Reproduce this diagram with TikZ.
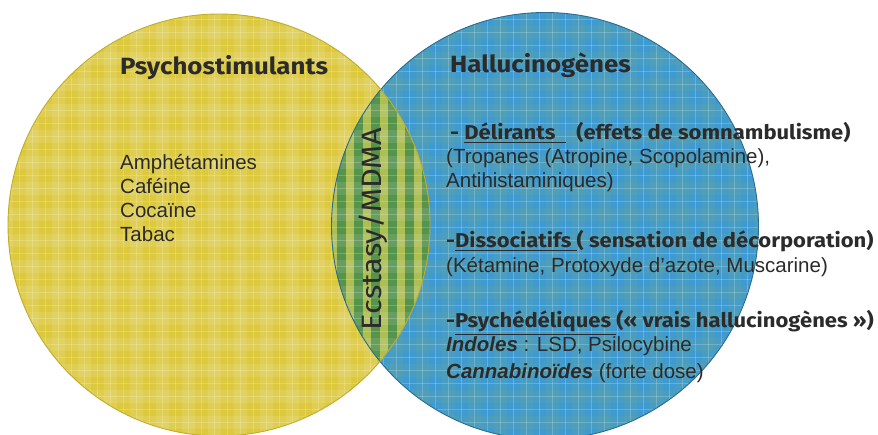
\documentclass[tikz,border=0pt]{standalone}
\usepackage{fontspec}
\setmainfont{Liberation Sans}
\newfontfamily\comic{Fira Sans}[FakeStretch=1.1]
\definecolor{ylw}{HTML}{DCC93E}
\definecolor{ylwedge}{HTML}{C2AC28}
\definecolor{blu}{HTML}{3F9AD2}
\definecolor{bluedge}{HTML}{2A6C90}
\definecolor{bluband}{HTML}{6FAA8C}
\definecolor{lensl}{HTML}{ADBF54}
\definecolor{lensd}{HTML}{56944C}
\definecolor{txt}{HTML}{2B2B2B}
\tikzset{
  body/.style={anchor=base west, inner sep=0pt, text=txt, font=\fontsize{20.5}{24}\selectfont},
  head/.style={anchor=base west, inner sep=0pt, text=txt, font=\comic\bfseries\fontsize{23.5}{28}\selectfont},
  sub/.style={anchor=base west, inner sep=0pt, text=txt, font=\comic\bfseries\fontsize{20}{24}\selectfont},
  grid line/.style={white, opacity=0.2, line width=0.5pt},
}
\begin{document}
\begin{tikzpicture}[x=1pt,y=-1pt]
\useasboundingbox (0,0) rectangle (878,435);
\fill[white] (0,0) rectangle (878,435);
\coordinate (cL) at (219,225);
\coordinate (cR) at (545,226);
% yellow circle
\fill[ylw] (cL) circle[radius=211];
\begin{scope}
  \clip (cL) circle[radius=211];
  \foreach \k in {0,...,34} {
    \fill[white,opacity=0.10] (0,\k*26) rectangle (878,\k*26+13);
    \fill[white,opacity=0.10] (\k*26,0) rectangle (\k*26+13,435);
  }
  \foreach \k in {0,...,68} {
    \draw[grid line] (\k*13+6,0) -- (\k*13+6,435);
  }
  \foreach \k in {0,...,34} {
    \draw[grid line] (0,\k*13+6) -- (878,\k*13+6);
  }
\end{scope}
% blue circle
\fill[blu] (cR) circle[radius=213.5];
\begin{scope}
  \clip (cR) circle[radius=213.5];
  \foreach \k in {0,...,34} {
    \fill[bluband,opacity=0.2] (0,\k*26) rectangle (878,\k*26+13);
    \fill[bluband,opacity=0.2] (\k*26,0) rectangle (\k*26+13,435);
  }
  \foreach \k in {0,...,68} {
    \draw[grid line] (\k*13+6,0) -- (\k*13+6,435);
  }
  \foreach \k in {0,...,34} {
    \draw[grid line] (0,\k*13+6) -- (878,\k*13+6);
  }
\end{scope}
% lens
\begin{scope}
  \clip (cL) circle[radius=211];
  \clip (cR) circle[radius=213.5];
  \fill[lensl] (320,0) rectangle (440,435);
  \foreach \k in {0,...,6} {
    \fill[lensd] (337+\k*17,0) rectangle (346+\k*17,435);
  }
  \foreach \k in {0,...,34} {
    \fill[white,opacity=0.10] (300,\k*26) rectangle (460,\k*26+13);
  }
  \foreach \k in {0,...,34} {
    \draw[grid line] (300,\k*13+6) -- (460,\k*13+6);
  }
\end{scope}
\draw[bluedge, line width=0.9pt] (cR) circle[radius=213.5];
\draw[ylwedge, line width=0.9pt] (cL) circle[radius=211];
% texts
\node[head] (hpsy) at (120,75) {Psychostimulants};
\node[head] (hhal) at (450,73) {Hallucinogènes};
\node[body] (l1) at (120,170) {Amphétamines};
\node[body] (l2) at (120,194) {Caféine};
\node[body] (l3) at (120,218) {Cocaïne};
\node[body] (l4) at (120,242) {Tabac};
\node[rotate=90, inner sep=0pt, text=txt, font=\comic\fontsize{28}{32}\selectfont] (ecs) at (373,229) {Ecstasy/MDMA};
\node[sub] (d1) at (450,140) {- \underline{Délirants\ \ }\ \ (effets de somnambulisme)};
\node[body] (d2) at (446,164) {(Tropanes (Atropine, Scopolamine),};
\node[body] (d3) at (446,188) {Antihistaminiques)};
\node[sub] (s1) at (446,248) {-\underline{Dissociatifs }( sensation de décorporation)};
\node[body] (s2) at (446,273) {(Kétamine, Protoxyde d'azote, Muscarine)};
\node[sub] (p1) at (446,328) {-\underline{Psychédéliques }(« vrais hallucinogènes »)};
\node[body] (p2) at (446,352) {\textbf{\textit{Indoles}} : LSD, Psilocybine};
\node[body] (p3) at (446,378) {\textbf{\textit{Cannabinoïdes}} (forte dose)};
\end{tikzpicture}
\end{document}
